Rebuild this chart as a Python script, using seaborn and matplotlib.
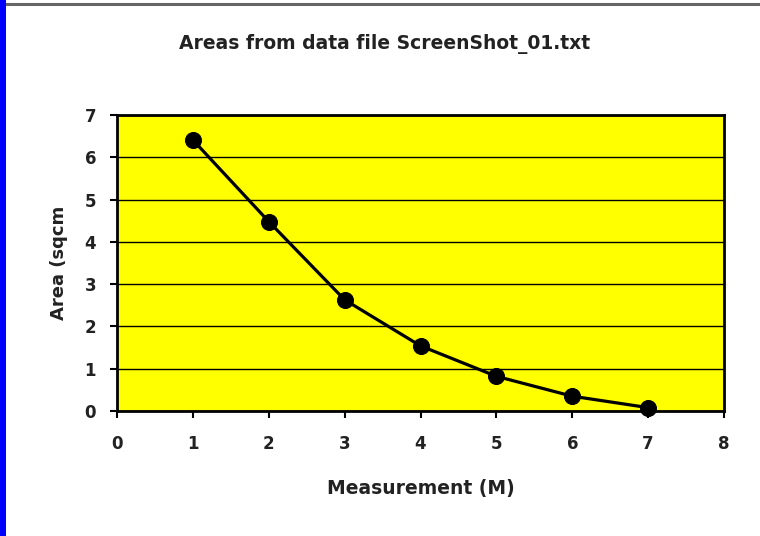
import matplotlib
matplotlib.use("Agg")
import matplotlib.pyplot as plt
import seaborn as sns
import pandas as pd
from matplotlib.patches import Rectangle
from matplotlib.lines import Line2D

measurement = [1, 2, 3, 4, 5, 6, 7]
area = [6.41, 4.48, 2.63, 1.54, 0.82, 0.35, 0.08]
x_ticks = [0, 1, 2, 3, 4, 5, 6, 7, 8]
y_ticks = [0, 1, 2, 3, 4, 5, 6, 7]
title = "Areas from data file ScreenShot_01.txt"
x_label = "Measurement (M)"
y_label = "Area (sqcm"

sns.set_theme(style="white")
plt.rcParams['font.family'] = ['DejaVu Sans']

df = pd.DataFrame({"Measurement": measurement, "Area": area})

fig = plt.figure(figsize=(7.6, 5.36), dpi=100)
fig.patch.set_facecolor("white")
ax = fig.add_axes([117/760, 1 - 411/536, 607/760, 296/536])
ax.set_facecolor("#FFFF00")

sns.lineplot(data=df, x="Measurement", y="Area", ax=ax, color="black",
             linewidth=2.3, marker="o", markersize=11.5, markeredgecolor="black",
             markerfacecolor="black", clip_on=False, zorder=5)

ax.set_xlim(0, 8)
ax.set_ylim(0, 7)
ax.set_xticks(x_ticks)
ax.set_yticks(y_ticks)
ax.set_xticklabels([str(t) for t in x_ticks], fontsize=12, fontweight="bold", color="#222222")
ax.set_yticklabels([str(t) for t in y_ticks], fontsize=12, fontweight="bold", color="#222222")
ax.yaxis.grid(True, color="black", linewidth=1.0)
ax.xaxis.grid(False)
ax.set_axisbelow(True)
for s in ax.spines.values():
    s.set_color("black")
    s.set_linewidth(2.0)
    s.set_visible(True)
ax.tick_params(axis="x", which="major", direction="out", length=5, width=1.5,
               color="black", bottom=True, pad=12)
ax.tick_params(axis="y", which="major", direction="out", length=5, width=1.5,
               color="black", left=True, pad=10)

ax.set_xlabel(x_label, fontsize=13.5, fontweight="bold", color="#222222", labelpad=19)
ax.set_ylabel(y_label, fontsize=13, fontweight="bold", color="#222222", labelpad=12)
fig.text(385/760, 1 - 44/536, title, ha="center", va="center",
         fontsize=13.5, fontweight="bold", color="#222222")

# blue strip on the left and grey line on top
fig.patches.append(Rectangle((0, 0), 6/760, 1, transform=fig.transFigure,
                             facecolor="#0000FF", edgecolor="none", zorder=10))
fig.lines.append(Line2D([6/760, 1], [1 - 4/536, 1 - 4/536], transform=fig.transFigure,
                        color="#666666", linewidth=2.2, zorder=10))

fig.savefig("out.png", dpi=100, facecolor="white")
